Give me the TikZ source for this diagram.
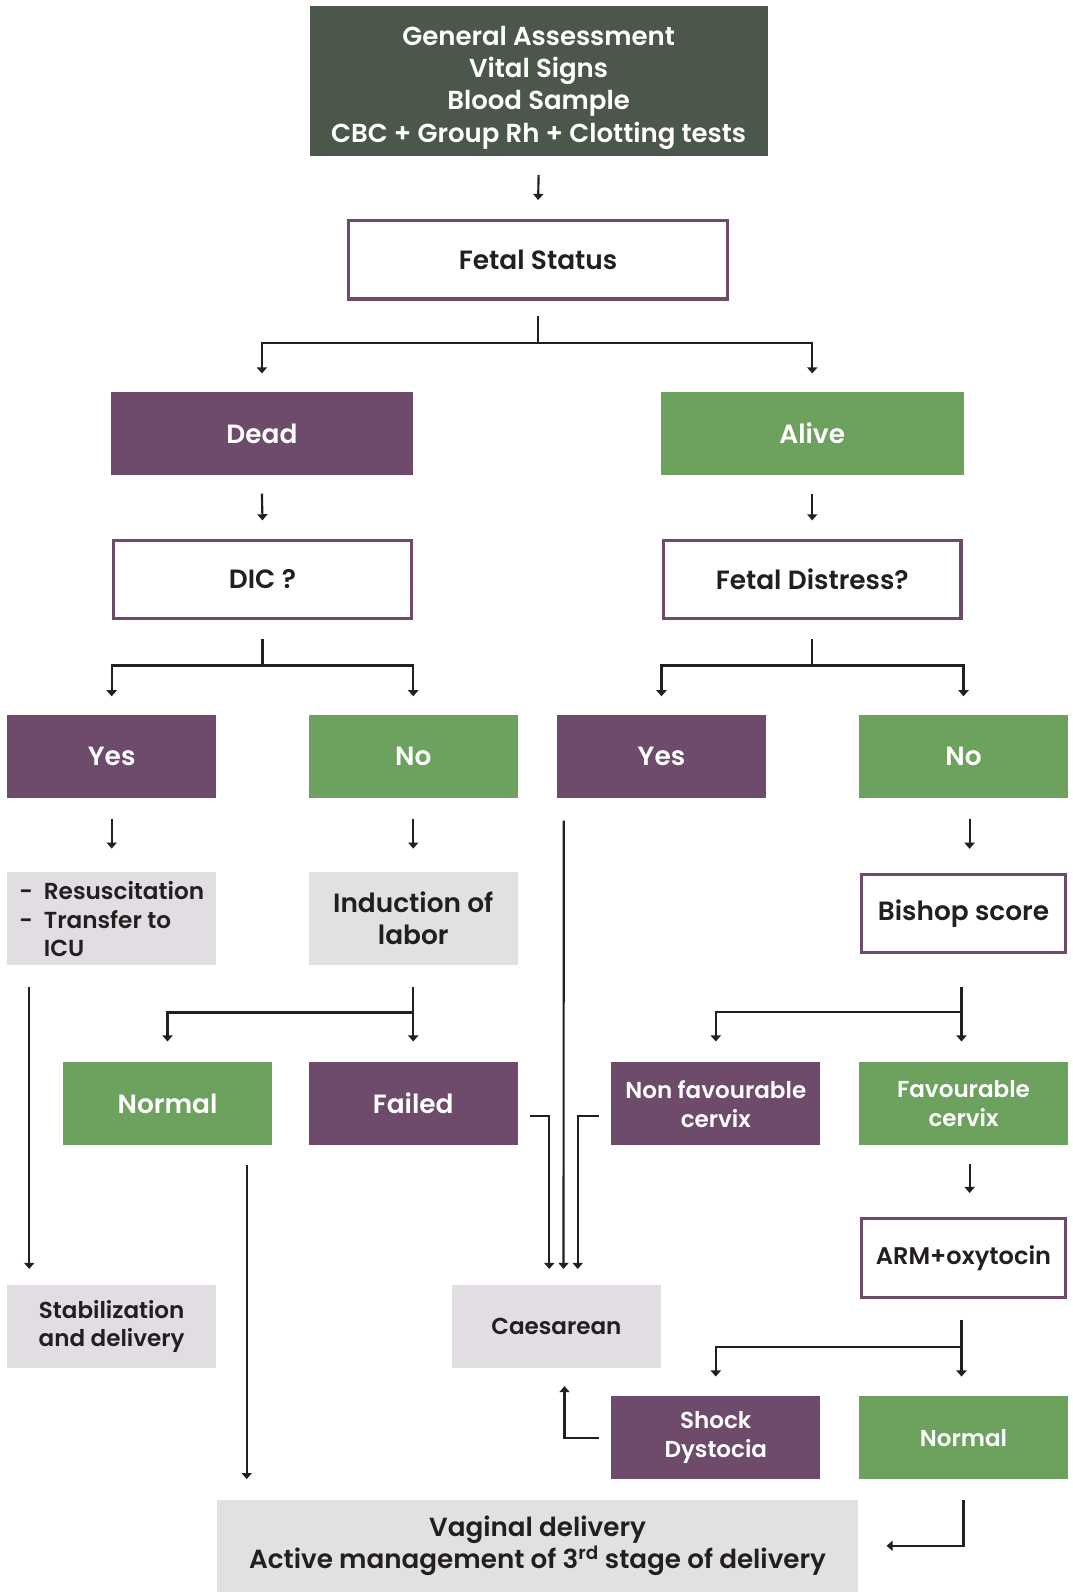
\documentclass[tikz,border=0pt]{standalone}
\usepackage{fontspec}
\setmainfont{Poppins}[BoldFont={* SemiBold}]
\usetikzlibrary{arrows.meta,calc}

\definecolor{slate}{HTML}{4B574A}
\definecolor{plum}{HTML}{6E4A6B}
\definecolor{leaf}{HTML}{6CA15E}
\definecolor{mist}{HTML}{E2DCE3}
\definecolor{fog}{HTML}{E1E1E1}
\definecolor{ink}{HTML}{231F20}

\newcommand{\fs}[2]{\fontsize{#1}{#2}\selectfont}
% shift text down without changing its box size
\newcommand{\dropby}[2]{\raisebox{-#1}[\height][\depth]{#2}}

\begin{document}
\begin{tikzpicture}[x=1pt,y=-1pt,
  box/.style={inner sep=0pt, align=center, font=\bfseries\fs{26}{31}},
  small/.style={font=\bfseries\fs{22.7}{28.5}},
  tile/.style={box, minimum width=206pt, minimum height=82pt},
  plumtile/.style={tile, fill=plum, text=white},
  leaftile/.style={tile, fill=leaf, text=white},
  framed/.style={box, draw=plum, line width=3pt, fill=white, text=ink,
                 minimum width=201pt, minimum height=77pt},
  mistbox/.style={box, fill=mist, text=ink, minimum width=206pt, minimum height=81pt},
  fogbox/.style={box, fill=fog, text=ink},
  link/.style={line width=2.1pt, draw=ink},
  arr/.style={link, -{Triangle[width=10pt,length=6pt]}}
]
\useasboundingbox (0,0) rectangle (1056,1568);

% ---- boxes ----
\node[box, fill=slate, text=white, minimum width=451pt, minimum height=148pt,
      font=\bfseries\fs{25.6}{31.7}] (top) at (530.5,80)
  {\dropby{6pt}{\begin{tabular}{@{}c@{}}General Assessment\\Vital Signs\\Blood Sample\\CBC + Group Rh + Clotting tests\end{tabular}}};
\node[framed, minimum width=373pt] (fetal) at (530,256) {Fetal Status};

\node[tile, plumtile, minimum width=298pt] (dead) at (258,427) {Dead};
\node[tile, leaftile, minimum width=298pt] (alive) at (800,427) {Alive};

\node[framed, minimum width=294pt] (dic) at (258.5,570.5) {DIC ?};
\node[framed, minimum width=293pt] (fd) at (800,570.5) {Fetal Distress?};

\node[plumtile] (yesL) at (110,745) {Yes};
\node[leaftile] (noL) at (407,745) {No};
\node[plumtile] (yesR) at (651.5,745) {Yes};
\node[leaftile] (noR) at (949,745) {No};

\node[mistbox, minimum height=91pt, font=\bfseries\fs{22.8}{28}] (resus) at (110,904.5)
  {\dropby{4pt}{\begin{tabular}{@{}l@{\hspace{11pt}}l@{}}-&Resuscitation\\-&Transfer to\\&ICU\end{tabular}}};
\node[fogbox, minimum width=206pt, minimum height=91pt] (induct) at (407,904.5)
  {Induction of\\labor};
\node[framed] (bishop) at (949,900) {Bishop score};

\node[leaftile] (normL) at (165,1087) {Normal};
\node[plumtile] (failed) at (407,1087) {Failed};
\node[plumtile, small] (nonfav) at (705,1087) {Non favourable\\cervix};
\node[leaftile, small] (fav) at (949,1087) {Favourable\\cervix};

\node[mistbox, small] (stab) at (110,1306.5) {Stabilization\\and delivery};
\node[mistbox, small] (caes) at (548,1306.5) {Caesarean};
\node[framed, font=\bfseries\fs{23.7}{28}] (arm) at (949,1239) {ARM+oxytocin};

\node[plumtile, small] (shock) at (705,1416) {Shock\\Dystocia};
\node[leaftile, small] (normR) at (949,1416) {Normal};

\node[fogbox, minimum width=631pt, minimum height=91pt, font=\bfseries\fs{25.8}{31.7}] (vag) at (529.5,1522.5)
  {Vaginal delivery\\Active management of 3\textsuperscript{rd} stage of delivery};

% ---- connectors ----
\draw[arr] ([yshift=-18pt]top.south) -- ([yshift=19pt]fetal.north);

\draw[link] ([yshift=-15pt]fetal.south) -- ++(0,-27pt) coordinate (fb);
\draw[arr] (fb) -| ([yshift=18pt]dead.north);
\draw[arr] (fb) -| ([yshift=18pt]alive.north);

\draw[arr] ([yshift=-18pt]dead.south) -- ([yshift=18pt]dic.north);
\draw[arr] ([yshift=-18pt]alive.south) -- ([yshift=18pt]fd.north);

\draw[link] ([yshift=-19pt]dic.south) -- ++(0,-26pt) coordinate (db);
\draw[arr] (db) -| ([yshift=18pt]yesL.north);
\draw[arr] (db) -| ([yshift=18pt]noL.north);

\draw[link] ([yshift=-19pt]fd.south) -- ++(0,-26pt) coordinate (sb);
\draw[arr] (sb) -| ([yshift=18pt]yesR.north);
\draw[arr] (sb) -| ([yshift=18pt]noR.north);

\draw[arr] ([yshift=-20pt]yesL.south) -- ([yshift=23pt]resus.north);
\draw[arr] ([yshift=-20pt]noL.south) -- ([yshift=23pt]induct.north);
\draw[arr] ([xshift=6pt,yshift=-20pt]noR.south) -- ([xshift=6pt,yshift=24pt]bishop.north);

\draw[arr] ([xshift=7pt,yshift=-22pt]yesR.south west) -- ([xshift=7pt,yshift=16pt]caes.north);

\draw[arr] ([xshift=22pt,yshift=-22pt]resus.south west) -- ([xshift=22pt,yshift=16pt]stab.north west);

\draw[link] ([yshift=-22pt]induct.south) -- ++(0,-25pt) coordinate (ib);
\draw[arr] (ib) -| ([yshift=20pt]normL.north);
\draw[arr] (ib) -- ([yshift=20pt]failed.north);

\draw[link] ([xshift=-2pt,yshift=-32pt]bishop.south) -- ++(0,-25pt) coordinate (bb);
\draw[arr] (bb) -| ([yshift=20pt]nonfav.north);
\draw[arr] (bb) -- ([xshift=-2pt,yshift=20pt]fav.north);

\draw[arr] ([xshift=12pt,yshift=-12pt]failed.east) -| ([xshift=-7pt,yshift=16pt]caes.north);
\draw[arr] ([xshift=-12pt,yshift=-12pt]nonfav.west) -| ([xshift=21pt,yshift=16pt]caes.north);

\draw[arr] ([xshift=78pt,yshift=-19pt]normL.south) coordinate (nl)
  -- ($(nl |- vag.north)+(0,20pt)$);

\draw[arr] ([xshift=6pt,yshift=-18pt]fav.south) -- ([xshift=6pt,yshift=24pt]arm.north);

\draw[link] ([xshift=-2pt,yshift=-21pt]arm.south) -- ++(0,-27pt) coordinate (ab);
\draw[arr] (ab) -| ([yshift=19pt]shock.north);
\draw[arr] (ab) -- ([xshift=-2pt,yshift=19pt]normR.north);

\draw[arr] ([xshift=-12pt]shock.west) -| ([xshift=8pt,yshift=-18pt]caes.south);

\draw[arr] ([yshift=-20pt]normR.south) |- ([xshift=28pt]vag.east);
\end{tikzpicture}
\end{document}
